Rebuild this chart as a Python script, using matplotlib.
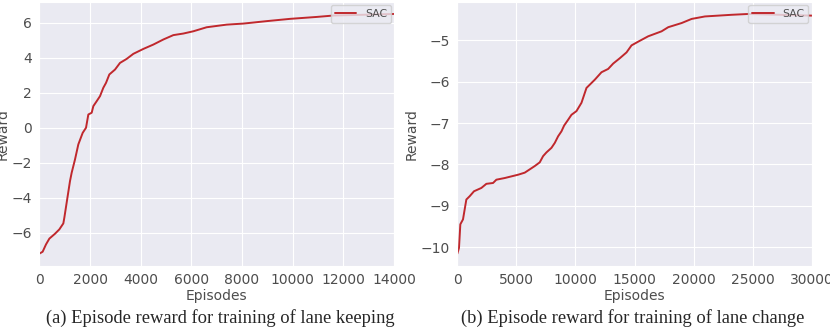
import matplotlib
matplotlib.use("Agg")
import matplotlib.pyplot as plt
import seaborn as sns

# lane keeping (a)
keep_ep = [0, 130, 263, 395, 618, 790, 947, 987, 1210, 1276, 1408, 1539, 1711, 1842,
           1934, 2066, 2132, 2263, 2395, 2526, 2632, 2763, 2987, 3184, 3447, 3711,
           4105, 4500, 4895, 5289, 5684, 6079, 6605, 7395, 8053, 8974, 9895, 10947,
           11605, 14000]
keep_rew = [-7.2, -7.09, -6.67, -6.34, -6.06, -5.81, -5.47, -5.14, -3.05, -2.57, -1.81,
            -0.95, -0.29, 0.0, 0.76, 0.86, 1.24, 1.52, 1.81, 2.29, 2.57, 3.05, 3.33,
            3.71, 3.94, 4.23, 4.51, 4.76, 5.05, 5.30, 5.39, 5.52, 5.75, 5.90, 5.96,
            6.10, 6.23, 6.34, 6.42, 6.51]

# lane change (b)
change_ep = [0, 141, 254, 480, 621, 763, 1045, 1412, 2034, 2458, 3023, 3305, 4011,
             4576, 5141, 5706, 6130, 6554, 6977, 7260, 7542, 7966, 8249, 8531, 8814,
             9040, 9379, 9661, 10085, 10508, 10932, 11215, 11638, 12203, 12768, 13192,
             13757, 14322, 14746, 15311, 16158, 17288, 17853, 18983, 19831, 20960,
             23220, 24633, 30000]
change_rew = [-10.16, -10.02, -9.45, -9.33, -9.09, -8.85, -8.77, -8.65, -8.57, -8.47,
              -8.45, -8.37, -8.33, -8.29, -8.25, -8.20, -8.12, -8.04, -7.95, -7.80,
              -7.71, -7.60, -7.48, -7.32, -7.20, -7.06, -6.92, -6.80, -6.71, -6.51,
              -6.15, -6.07, -5.95, -5.77, -5.69, -5.56, -5.43, -5.29, -5.12, -5.03,
              -4.90, -4.78, -4.68, -4.58, -4.48, -4.42, -4.38, -4.36, -4.40]

captions = ['(a) Episode reward for training of lane keeping',
            '(b) Episode reward for training of lane change']

sns.set_style('darkgrid')
plt.rcParams['font.family'] = ['DejaVu Sans']
color = '#c0282d'

fig = plt.figure(figsize=(8.3, 3.3), dpi=100)
ax1 = fig.add_axes([0.0474, 0.195, 0.4273, 0.799])
ax2 = fig.add_axes([0.551, 0.195, 0.427, 0.799])

for ax, x, y, cap, cx in [(ax1, keep_ep, keep_rew, captions[0], 0.265),
                          (ax2, change_ep, change_rew, captions[1], 0.762)]:
    ax.plot(x, y, color=color, lw=1.4, label='SAC')
    ax.set_xlim(0, x[-1])
    ax.set_xlabel('Episodes', fontsize=10, color='.3', labelpad=1)
    ax.set_ylabel('Reward', fontsize=10, color='.3', labelpad=1)
    ax.tick_params(labelsize=10, labelcolor='.3', pad=2)
    leg = ax.legend(loc='upper right', fontsize=7.8, borderaxespad=0.3,
                    borderpad=0.35)
    for t in leg.get_texts():
        t.set_color('.3')
    fig.text(cx, 0.036, cap, ha='center', va='center',
             family='Liberation Serif', fontsize=13.3)

ax1.set_yticks([-6, -4, -2, 0, 2, 4, 6])
ax2.set_yticks([-10, -9, -8, -7, -6, -5])
ax1.set_xticks(range(0, 14001, 2000))
ax2.set_xticks(range(0, 30001, 5000))

fig.savefig('out.png', dpi=100)
